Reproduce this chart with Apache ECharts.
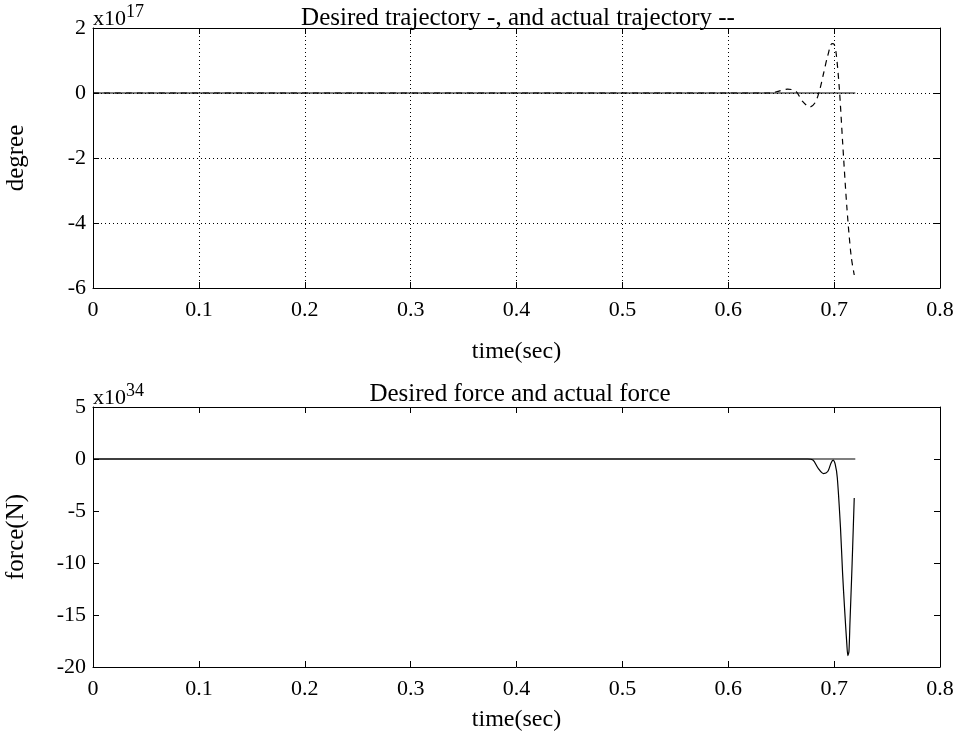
<!DOCTYPE html>
<html><head><meta charset="utf-8">
<script src="https://cdn.jsdelivr.net/npm/echarts@6/dist/echarts.min.js"></script>
<style>html,body{margin:0;padding:0;background:#fff}#c{width:960px;height:739px}</style>
</head><body><div id="c"></div>
<script>
// Top plot: trajectory (x10^17 degree)
const trajTime    = [0, 0.640, 0.648, 0.656, 0.664, 0.670, 0.677, 0.682, 0.686, 0.690, 0.694, 0.698, 0.700, 0.702, 0.705, 0.708, 0.712, 0.716, 0.719];
const trajActual  = [0, 0.00, 0.06, 0.12, 0.05, -0.25, -0.43, -0.30, 0.05, 0.60, 1.15, 1.52, 1.50, 1.20, 0.10, -1.50, -3.50, -5.00, -5.60];
const trajDesTime = [0, 0.72];
const trajDesired = [0, 0];
// Bottom plot: force (x10^34 N)
const forceTime    = [0, 0.675, 0.680, 0.685, 0.690, 0.694, 0.697, 0.699, 0.701, 0.703, 0.706, 0.708, 0.710, 0.712, 0.713, 0.714, 0.715, 0.7165, 0.7175, 0.719];
const forceActual  = [0, 0.00, -0.10, -0.90, -1.40, -1.20, -0.40, -0.10, -0.50, -1.80, -6.60, -11.0, -14.6, -17.8, -18.9, -18.5, -15.6, -11.5, -8.5, -3.75];
const forceDesTime = [0, 0.72];
const forceDesired = [0, 0];

const xTicks = [0, 0.1, 0.2, 0.3, 0.4, 0.5, 0.6, 0.7, 0.8];
const yTicksTop = [2, 0, -2, -4, -6];
const yTicksBot = [5, 0, -5, -10, -15, -20];

const pair = (t, v) => t.map((x, i) => [x, v[i]]);
const FONT = 'Liberation Serif';
const FS = 22;
const black = '#000';

function xAxes(gi, grid, gap) {
  const split = grid ? {show: true, lineStyle: {color: black, type: [1, 3], width: 1}} : {show: false};
  return [
    {type: 'value', gridIndex: gi, min: 0, max: 0.8, interval: 0.1, position: 'bottom',
     axisLine: {show: true, onZero: false, lineStyle: {color: black, width: 1}},
     axisTick: {show: true, inside: true, length: 6, lineStyle: {color: black}},
     axisLabel: {show: true, color: black, fontFamily: FONT, fontSize: FS, margin: 11,
                 formatter: v => String(Math.round(v * 10) / 10)},
     splitLine: split,
     name: 'time(sec)', nameLocation: 'middle', nameGap: gap,
     nameTextStyle: {color: black, fontFamily: FONT, fontSize: 24}},
    {type: 'value', gridIndex: gi, min: 0, max: 0.8, interval: 0.1, position: 'top',
     axisLine: {show: true, onZero: false, lineStyle: {color: black, width: 1}},
     axisTick: {show: true, inside: true, length: 6, lineStyle: {color: black}},
     axisLabel: {show: false}, splitLine: {show: false}}
  ];
}
function yAxes(gi, min, max, interval, name, grid) {
  const split = grid ? {show: true, lineStyle: {color: black, type: [1, 3], width: 1}} : {show: false};
  return [
    {type: 'value', gridIndex: gi, min: min, max: max, interval: interval, position: 'left',
     axisLine: {show: true, onZero: false, lineStyle: {color: black, width: 1}},
     axisTick: {show: true, inside: true, length: 6, lineStyle: {color: black}},
     axisLabel: {show: true, color: black, fontFamily: FONT, fontSize: FS, margin: 7},
     splitLine: split,
     name: name, nameLocation: 'middle', nameGap: 64, nameRotate: 90,
     nameTextStyle: {color: black, fontFamily: FONT, fontSize: 25}},
    {type: 'value', gridIndex: gi, min: min, max: max, interval: interval, position: 'right',
     axisLine: {show: true, onZero: false, lineStyle: {color: black, width: 1}},
     axisTick: {show: true, inside: true, length: 6, lineStyle: {color: black}},
     axisLabel: {show: false}, splitLine: {show: false}}
  ];
}

const supRich = {
  b: {fontFamily: FONT, fontSize: FS, fill: black, verticalAlign: 'bottom'},
  s: {fontFamily: FONT, fontSize: 18, fill: black, verticalAlign: 'top', padding: [0, 0, 9, 0]}
};

const chart = echarts.init(document.getElementById('c'), null, {renderer: 'canvas'});
chart.setOption({
  animation: false,
  backgroundColor: '#fff',
  title: [
    {text: 'Desired trajectory -, and actual trajectory --', left: 513, top: 1, textAlign: 'center',
     textStyle: {fontFamily: FONT, fontSize: 25, fontWeight: 'normal', color: black}},
    {text: 'Desired force and actual force', left: 515, top: 377, textAlign: 'center',
     textStyle: {fontFamily: FONT, fontSize: 25, fontWeight: 'normal', color: black}}
  ],
  graphic: [
    {type: 'text', left: 93, top: 3, style: {text: '{b|x10}{s|17}', rich: supRich}},
    {type: 'text', left: 93, top: 382, style: {text: '{b|x10}{s|34}', rich: supRich}}
  ],
  grid: [
    {left: 93, top: 28, width: 847, height: 260, containLabel: false, outerBoundsMode: 'none'},
    {left: 93, top: 407, width: 847, height: 260, containLabel: false, outerBoundsMode: 'none'}
  ],
  xAxis: [...xAxes(0, true, 52), ...xAxes(1, false, 41)],
  yAxis: [...yAxes(0, -6, 2, 2, 'degree', true), ...yAxes(1, -20, 5, 5, 'force(N)', false)],
  series: [
    {type: 'line', xAxisIndex: 0, yAxisIndex: 0, data: pair(trajDesTime, trajDesired), showSymbol: false,
     lineStyle: {color: black, width: 1.2}},
    {type: 'line', xAxisIndex: 0, yAxisIndex: 0, data: pair(trajTime, trajActual), showSymbol: false, smooth: 0.3,
     lineStyle: {color: black, width: 1.2, type: [6, 5]}},
    {type: 'line', xAxisIndex: 2, yAxisIndex: 2, data: pair(forceDesTime, forceDesired), showSymbol: false,
     lineStyle: {color: black, width: 1.2}},
    {type: 'line', xAxisIndex: 2, yAxisIndex: 2, data: pair(forceTime, forceActual), showSymbol: false, smooth: 0.3,
     lineStyle: {color: black, width: 1.2}}
  ]
});
</script></body></html>
